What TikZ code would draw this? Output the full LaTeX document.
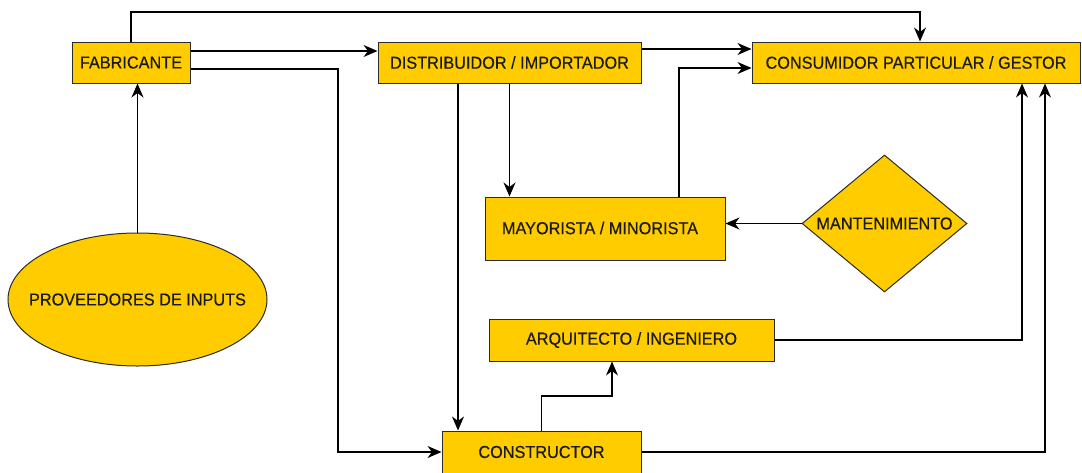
\documentclass[tikz,border=0pt]{standalone}
\usepackage{fontspec}
\setmainfont{Liberation Sans}[FakeStretch=0.94,FakeBold=0.4]
\usetikzlibrary{shapes.geometric,arrows.meta}
\definecolor{boxfill}{HTML}{FFCC00}
\definecolor{boxline}{HTML}{2B2B2B}
\definecolor{txt}{HTML}{1A1A1A}
\tikzset{
  lbl/.style={text=txt, font=\fontsize{17.3}{20}\selectfont, inner sep=0pt},
  box/.style={draw=boxline, fill=boxfill, line width=1pt, inner sep=0pt, lbl},
  diam/.style={box, diamond},
  oval/.style={box, ellipse},
  arr/.style={draw=black, line width=1.3pt, -{Stealth[length=14pt,width=12pt,inset=4.5pt]}},
}
\begin{document}
\begin{tikzpicture}[x=1pt,y=-1pt]
\useasboundingbox (0,0) rectangle (1082,472);
\node[box, minimum width=118pt, minimum height=41pt] (fab) at (131,62.5) {FABRICANTE};
\node[box, minimum width=263pt, minimum height=41pt] (dist) at (509.5,62.5) {DISTRIBUIDOR / IMPORTADOR};
\node[box, minimum width=328pt, minimum height=41pt] (cons) at (916,62.5) {CONSUMIDOR PARTICULAR / GESTOR};
\node[box, minimum width=240pt, minimum height=63pt] (may) at (605,228.5) {};
\node[lbl] (maytxt) at (600,228) {MAYORISTA / MINORISTA};
\node[diam, minimum width=165pt, minimum height=137pt] (mant) at (884.5,223.5) {};
\node[lbl] (manttxt) at (mant.center) {MANTENIMIENTO};
\node[box, minimum width=285pt, minimum height=42pt] (arq) at (631.5,340) {ARQUITECTO / INGENIERO};
\node[box, minimum width=199pt, minimum height=42pt] (constr) at (541.5,452) {CONSTRUCTOR};
\node[oval, minimum width=259pt, minimum height=133pt] (prov) at (137.5,299.5) {};
\node[lbl] (provtxt) at (prov.center) {PROVEEDORES DE INPUTS};

\coordinate (t1) at (920,12);
\coordinate (k1) at (338,69);
\coordinate (k2) at (679,68);
\coordinate (k3) at (612,396);
\coordinate (ya) at (0,51);
\coordinate (yb) at (0,49);
\coordinate (xa) at (458,0);
\coordinate (xb) at (1022,0);
\coordinate (xc) at (1045,0);

\draw[arr] (prov.north) -- (prov.north |- fab.south);
\draw[arr] (fab.north) |- (t1) -- (t1 |- cons.north);
\draw[arr] (fab.east |- ya) -- (dist.west |- ya);
\draw[arr] (fab.east |- k1) -- (k1) |- (constr.west);
\draw[arr] (dist.east |- yb) -- (cons.west |- yb);
\draw[arr] (dist.south -| xa) -- (constr.north -| xa);
\draw[arr] (dist.south) -- (dist.south |- may.north);
\draw[arr] (may.north -| k2) |- (cons.west |- k2);
\draw[arr] (mant.west) -- (may.east |- mant.west);
\draw[arr] (arq.east) -| (cons.south -| xb);
\draw[arr] (constr.east) -| (cons.south -| xc);
\draw[arr] (constr.north) |- (k3) -- (k3 |- arq.south);
\end{tikzpicture}
\end{document}
